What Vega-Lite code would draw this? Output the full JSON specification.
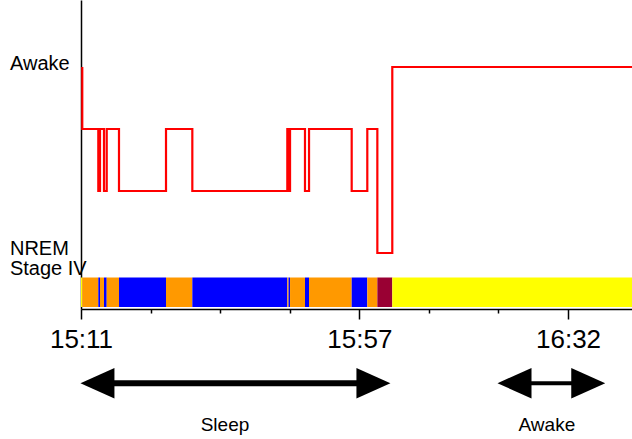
{
  "$schema": "https://vega.github.io/schema/vega-lite/v6.json",
  "width": 551,
  "height": 309,
  "autosize": {"type": "none"},
  "padding": {"left": 81, "top": 0, "right": 0, "bottom": 130},
  "background": "white",
  "config": {
    "view": {"stroke": null},
    "axis": {"grid": false, "domainColor": "black", "domainWidth": 1.5, "tickColor": "black", "labelColor": "black", "labelFont": "Liberation Sans, Arial, sans-serif"}
  },
  "datasets": {
    "bands": [
      {"start": 0, "end": 0.21, "stage": "Awake"},
      {"start": 0.21, "end": 2.86, "stage": "Stage II"},
      {"start": 2.86, "end": 3.14, "stage": "Stage III"},
      {"start": 3.14, "end": 3.8, "stage": "Stage II"},
      {"start": 3.8, "end": 4.25, "stage": "Stage III"},
      {"start": 4.25, "end": 6.28, "stage": "Stage II"},
      {"start": 6.28, "end": 14.05, "stage": "Stage III"},
      {"start": 14.05, "end": 18.4, "stage": "Stage II"},
      {"start": 18.4, "end": 34.1, "stage": "Stage III"},
      {"start": 34.1, "end": 34.3, "stage": "Stage II"},
      {"start": 34.3, "end": 34.55, "stage": "Stage III"},
      {"start": 34.55, "end": 37.02, "stage": "Stage II"},
      {"start": 37.02, "end": 37.69, "stage": "Stage III"},
      {"start": 37.69, "end": 44.74, "stage": "Stage II"},
      {"start": 44.74, "end": 47.32, "stage": "Stage III"},
      {"start": 47.32, "end": 48.98, "stage": "Stage II"},
      {"start": 48.98, "end": 51.45, "stage": "Stage IV"},
      {"start": 51.45, "end": 91.07, "stage": "Awake"}
    ],
    "hypno": [
      {"t": 0.21, "level": 0},
      {"t": 0.21, "level": 1},
      {"t": 2.86, "level": 2},
      {"t": 3.14, "level": 1},
      {"t": 3.8, "level": 2},
      {"t": 4.25, "level": 1},
      {"t": 6.28, "level": 2},
      {"t": 14.05, "level": 1},
      {"t": 18.4, "level": 2},
      {"t": 34.1, "level": 1},
      {"t": 34.3, "level": 2},
      {"t": 34.55, "level": 1},
      {"t": 37.02, "level": 2},
      {"t": 37.69, "level": 1},
      {"t": 44.74, "level": 2},
      {"t": 47.32, "level": 1},
      {"t": 48.98, "level": 3},
      {"t": 51.45, "level": 0},
      {"t": 91.07, "level": 0}
    ],
    "stageLabels": [
      {"label": "Awake", "level": -0.055},
      {"label": ["NREM", "Stage IV"], "level": 2.93}
    ],
    "arrows": [
      {"label": "Sleep", "from": 3.1, "to": 47.9, "row": 5.1, "textAt": 23.8},
      {"label": "Awake", "from": 73.4, "to": 82.4, "row": 5.1, "textAt": 77.0}
    ],
    "heads": [
      {"t": 2.72, "dir": "left", "row": 5.1},
      {"t": 48.33, "dir": "right", "row": 5.1},
      {"t": 71.65, "dir": "left", "row": 5.1},
      {"t": 83.84, "dir": "right", "row": 5.1}
    ]
  },
  "layer": [
    {
      "data": {"name": "bands"},
      "mark": {"type": "rect"},
      "encoding": {
        "x": {"field": "start", "type": "quantitative", "title": null, "scale": {"domain": [0, 91.07], "nice": false, "zero": false},
          "axis": {"orient": "bottom", "values": [0, 11.5, 23, 34.5, 46, 57.5, 69, 80.5],
            "labelExpr": "datum.value == 0 ? '15:11' : datum.value == 46 ? '15:57' : datum.value == 80.5 ? '16:32' : ''",
            "tickSize": {"condition": {"test": "datum.value == 0 || datum.value == 46 || datum.value == 80.5", "value": 10}, "value": 4},
            "tickWidth": 1.5, "labelFontSize": 26, "labelPadding": 7, "labelFlush": false, "labelOverlap": false, "title": null}},
        "x2": {"field": "end"},
        "y": {"datum": 3.395, "type": "quantitative", "title": null, "scale": {"domain": [-1.081, 3.903], "nice": false, "zero": false, "reverse": true},
          "axis": {"orient": "left", "ticks": false, "labels": false, "title": null, "domain": true, "values": [0]}},
        "y2": {"datum": 3.871},
        "color": {"field": "stage", "type": "nominal", "legend": null,
          "scale": {"domain": ["Awake", "Stage II", "Stage III", "Stage IV"], "range": ["#FFFF00", "#FF9900", "#0000FF", "#990033"]}}
      }
    },
    {
      "data": {"name": "hypno"},
      "mark": {"type": "line", "interpolate": "step-after", "color": "#FF0000", "strokeWidth": 2.2},
      "encoding": {
        "x": {"field": "t", "type": "quantitative", "title": null},
        "y": {"field": "level", "type": "quantitative", "title": null}
      }
    },
    {
      "data": {"name": "stageLabels"},
      "mark": {"type": "text", "align": "left", "baseline": "middle", "fontSize": 20, "lineHeight": 20, "color": "black", "font": "Liberation Sans, Arial, sans-serif"},
      "encoding": {
        "x": {"datum": -11.74, "type": "quantitative", "title": null},
        "y": {"field": "level", "type": "quantitative", "title": null},
        "text": {"field": "label"}
      }
    },
    {
      "data": {"name": "arrows"},
      "mark": {"type": "rule", "color": "black"},
      "encoding": {
        "x": {"field": "from", "type": "quantitative", "title": null},
        "x2": {"field": "to"},
        "y": {"field": "row", "type": "quantitative", "title": null},
        "strokeWidth": {"field": "label", "type": "nominal", "legend": null, "scale": {"domain": ["Sleep", "Awake"], "range": [6, 4]}}
      }
    },
    {
      "data": {"name": "heads"},
      "mark": {"type": "point", "filled": true, "color": "black", "opacity": 1, "size": 1156},
      "encoding": {
        "x": {"field": "t", "type": "quantitative", "title": null},
        "y": {"field": "row", "type": "quantitative", "title": null},
        "shape": {"field": "dir", "type": "nominal", "legend": null, "scale": {"domain": ["left", "right"], "range": ["M-1,0L1,-0.9L1,0.9Z", "M1,0L-1,-0.9L-1,0.9Z"]}}
      }
    },
    {
      "data": {"name": "arrows"},
      "mark": {"type": "text", "baseline": "alphabetic", "align": "center", "fontSize": 19, "color": "black", "font": "Liberation Sans, Arial, sans-serif"},
      "encoding": {
        "x": {"field": "textAt", "type": "quantitative", "title": null},
        "y": {"datum": 5.87, "type": "quantitative", "title": null},
        "text": {"field": "label"}
      }
    }
  ]
}
